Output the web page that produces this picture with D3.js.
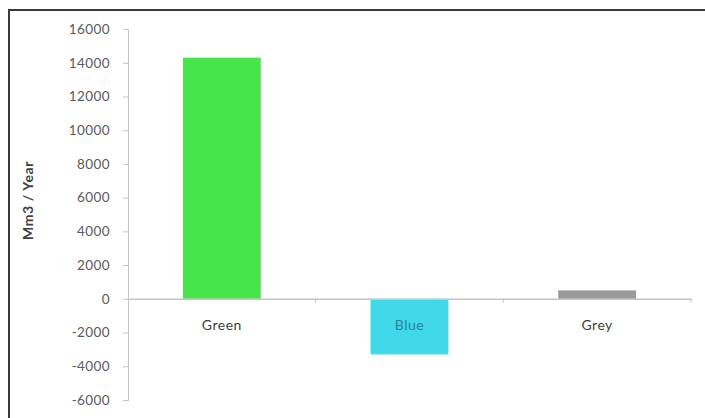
<!DOCTYPE html>
<html lang="en">
<head>
    <meta charset="UTF-8">
    <title>Water footprint</title>
    <script src="https://cdn.jsdelivr.net/npm/d3@7"></script>
    <style>
        body { margin: 0; background: #fff; }
        text { font-family: Lato, "Open Sans", sans-serif; }
    </style>
</head>
<body>
    <div id="chart"></div>
    <script>
// data
const categories = ["Green", "Blue", "Grey"];
const values = [14300, -3300, 500];
const barColors = ["#47e54a", "#3fd9ea", "#9a9a9a"];
const labelColors = ["#404040", "#2a8198", "#404040"];
const yTicks = [-6000, -4000, -2000, 0, 2000, 4000, 6000, 8000, 10000, 12000, 14000, 16000];

const width = 705, height = 418;
const margin = { top: 29, right: 14, bottom: 18, left: 128 };

const svg = d3.select("#chart").append("svg")
    .attr("width", width)
    .attr("height", height);

// frame (only top and left edges show in the picture)
svg.append("rect")
    .attr("x", 9).attr("y", 10)
    .attr("width", width + 20).attr("height", height + 20)
    .attr("fill", "none")
    .attr("stroke", "#3a3a3a")
    .attr("stroke-width", 2);

const x = d3.scaleBand()
    .domain(categories)
    .range([margin.left, width - margin.right]);

const y = d3.scaleLinear()
    .domain([-6000, 16000])
    .range([height - margin.bottom, margin.top]);

const barW = x.bandwidth() * 0.415;

// y axis, plain hyphen for negatives like the original
const yAxis = svg.append("g")
    .attr("transform", `translate(${margin.left},0)`)
    .call(d3.axisLeft(y).tickValues(yTicks).tickSize(5).tickPadding(13).tickFormat(d => String(d)));
yAxis.select(".domain").attr("stroke", "#c4c4c4");
yAxis.selectAll(".tick line").attr("stroke", "#c4c4c4");
yAxis.selectAll(".tick text")
    .attr("fill", "#5a5a5a")
    .style("font-size", "13.5px")
    .style("letter-spacing", "0.4px");

svg.append("text")
    .attr("transform", `translate(33,${(y(16000) + y(-6000)) / 2 - 14}) rotate(-90)`)
    .attr("text-anchor", "middle")
    .style("font-size", "14px")
    .style("font-weight", "bold")
    .style("letter-spacing", "0.6px")
    .attr("fill", "#404040")
    .text("Mm3 / Year");

// bars
svg.selectAll("rect.bar")
    .data(categories)
    .enter()
    .append("rect")
    .attr("class", "bar")
    .attr("x", d => x(d) + (x.bandwidth() - barW) / 2)
    .attr("y", (d, i) => y(Math.max(0, values[i])))
    .attr("width", barW)
    .attr("height", (d, i) => Math.abs(y(values[i]) - y(0)))
    .attr("fill", (d, i) => barColors[i]);

// x axis along zero
const xAxis = svg.append("g")
    .attr("transform", `translate(0,${y(0)})`)
    .call(d3.axisBottom(x).tickSize(0).tickFormat(""));
xAxis.select(".domain").attr("stroke", "#c4c4c4").attr("stroke-width", 1.5);

svg.append("g").selectAll("line")
    .data(categories)
    .enter()
    .append("line")
    .attr("x1", d => x(d) + x.bandwidth())
    .attr("x2", d => x(d) + x.bandwidth())
    .attr("y1", y(0))
    .attr("y2", y(0) + 4)
    .attr("stroke", "#c4c4c4");

// category labels
svg.append("g").selectAll("text")
    .data(categories)
    .enter()
    .append("text")
    .attr("x", d => x(d) + x.bandwidth() / 2)
    .attr("y", y(0) + 31)
    .attr("text-anchor", "middle")
    .style("font-size", "14px")
    .style("letter-spacing", "0.5px")
    .attr("fill", (d, i) => labelColors[i])
    .text(d => d);
    </script>
</body>
</html>
